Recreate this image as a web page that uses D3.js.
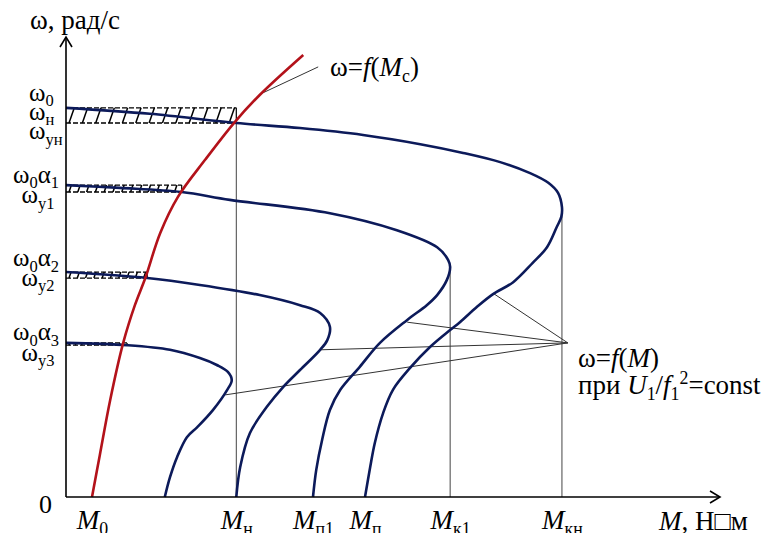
<!DOCTYPE html>
<html>
<head>
<meta charset="utf-8">
<script src="https://cdn.jsdelivr.net/npm/d3@7"></script>
<style>
body{margin:0;background:#fff}
svg{display:block}
text{font-family:"Liberation Serif","Times New Roman",serif;fill:#000}
</style>
</head>
<body>
<script>
const width = 777, height = 533;

// M (torque) and omega in relative units
const curveNat = [[0,84.6],[12.9,83.3],[26.2,81.3],[36.0,80.2],[45.7,78.7],[54.5,76.7],[61.1,74.8],[66.8,72.8],[71.4,70.4],[74.2,68.3],[75.7,66.1],[76.3,63.0],[76.2,60.9],[75.5,58.7],[74.0,54.3],[71.8,50.9],[68.8,46.7],[65.7,44.1],[63.2,41.3],[60.6,38.0],[59.1,36.3],[56.0,32.6],[52.9,28.0],[50.3,23.3],[48.8,18.3],[47.5,11.7],[46.8,6.5],[46.0,0]];
const curveA1 = [[0,67.8],[8.3,67.2],[17.8,66.3],[25.2,64.6],[40.6,61.7],[50.9,58.0],[57.1,54.3],[58.8,51.5],[59.1,50.0],[58.6,47.2],[57.1,43.9],[55.5,41.7],[52.5,38.5],[48.3,33.5],[45.2,28.3],[42.2,23.3],[40.6,18.9],[39.4,12.4],[38.5,5.9],[38.0,0]];
const curveA2 = [[0,48.9],[12.5,47.6],[20.6,46.1],[29.8,43.9],[36.0,41.7],[39.1,40.0],[40.6,37.0],[40.2,34.1],[39.1,32.0],[36.0,27.6],[33.4,23.9],[30.9,19.6],[28.3,13.9],[26.8,6.5],[26.2,0]];
const curveA3 = [[0,33.5],[9.4,33.0],[16.0,32.0],[20.6,30.2],[23.2,28.7],[24.9,27.2],[25.5,25.4],[24.8,23.3],[22.6,18.9],[20.2,15.2],[18.6,13.0],[17.1,8.7],[16.0,4.3],[15.2,0]];
const loadCurve = [[4.0,0],[5.2,9.1],[6.8,21.1],[8.8,33.5],[10.6,41.7],[12.2,47.6],[14.5,57.4],[17.2,65.2],[21.4,73.3],[25.9,81.4],[29.8,87.4],[36.5,96.1]];

// hatched zones: no-load level and working point of each curve
const levelW0 = [84.6, 67.8, 48.9, 33.5];
const opM = [26.2, 17.8, 12.5, 9.4];
const opW = [81.3, 66.3, 47.6, 33.0];

// vertical guide lines
const guideM = [26.2, 59.1, 76.3];
const guideW = [81.3, 50.0, 63.0];

// x tick labels
const mTicks = [4.0, 26.2, 38.0, 46.0, 59.1, 76.3];
const mTickSubs = ["0", "н", "п1", "п", "к1", "кн"];

// y labels
const wLabelLevels = [87.4, 83.3, 79.1, 69.6, 65.2, 51.5, 47.2, 35.4, 30.9];
const wLabelParts = [
  [["ω",""],["0","sub"]],
  [["ω",""],["н","sub"]],
  [["ω",""],["ун","sub"]],
  [["ω",""],["0","sub"],["α",""],["1","sub"]],
  [["ω",""],["у1","sub"]],
  [["ω",""],["0","sub"],["α",""],["2","sub"]],
  [["ω",""],["у2","sub"]],
  [["ω",""],["0","sub"],["α",""],["3","sub"]],
  [["ω",""],["у3","sub"]]
];
const wLabelAlign = ["start","start","start","end","mid","end","mid","end","mid"];

// leader lines
const apexFM = [77.2, 33.5];
const leaderTargets = [[65.7,44.3],[52.5,38.0],[39.1,32.0],[24.5,22.2]];
const leaderMc = [[38.8,93.5],[30.2,87.8]];

const x = d3.scaleLinear().domain([0,100]).range([66,716]);
const y = d3.scaleLinear().domain([0,100]).range([497,37]);

const svg = d3.select("body").append("svg").attr("width",width).attr("height",height)
  .attr("font-family","Liberation Serif, serif");

function rich(t, parts, fs){
  let shift = 0;
  parts.forEach(([s,k])=>{
    const sp = t.append("tspan").text(s);
    const target = k==="sub" ? fs*0.22 : k==="sup" ? -fs*0.38 : 0;
    sp.attr("dy", target-shift);
    shift = target;
    if(k==="sub"||k==="sup") sp.attr("font-size", fs*0.66);
    if(k==="i") sp.attr("font-style","italic");
  });
  return t;
}

// hatched zones
const hatch = svg.append("g");
levelW0.forEach((w0,i)=>{
  const x0 = x(0), x1 = x(opM[i]), yt = y(w0), yb = y(opW[i]);
  const h = yb - yt;
  const step = 5 + 0.55*h;
  hatch.append("line").attr("x1",x0).attr("x2",x1).attr("y1",yt).attr("y2",yt)
    .attr("stroke","#000").attr("stroke-width",1.3).attr("stroke-dasharray","5,2");
  hatch.append("line").attr("x1",x0).attr("x2",x1).attr("y1",yb).attr("y2",yb)
    .attr("stroke","#000").attr("stroke-width",1.3).attr("stroke-dasharray","5,2");
  hatch.append("line").attr("x1",x1).attr("x2",x1).attr("y1",yt).attr("y2",yb)
    .attr("stroke","#000").attr("stroke-width",1.2);
  hatch.selectAll(null).data(d3.range(x0+3, x1-2, step)).enter().append("line")
    .attr("x1",d=>d).attr("y1",yb).attr("x2",d=>d+h*0.35).attr("y2",yt)
    .attr("stroke","#000").attr("stroke-width",1.5);
});

// guides
svg.append("g").selectAll("line").data(guideM).enter().append("line")
  .attr("x1",d=>x(d)).attr("x2",d=>x(d))
  .attr("y1",y(0)).attr("y2",(d,i)=>y(guideW[i]))
  .attr("stroke","#444").attr("stroke-width",1);

// leader lines
const leaders = svg.append("g").attr("stroke","#333").attr("stroke-width",1);
leaderTargets.forEach(p=>{
  leaders.append("line").attr("x1",x(apexFM[0])).attr("y1",y(apexFM[1]))
    .attr("x2",x(p[0])).attr("y2",y(p[1]));
});
leaders.append("line").attr("x1",x(leaderMc[0][0])).attr("y1",y(leaderMc[0][1]))
  .attr("x2",x(leaderMc[1][0])).attr("y2",y(leaderMc[1][1]));

// curves
const line = d3.line().x(d=>x(d[0])).y(d=>y(d[1])).curve(d3.curveCatmullRom.alpha(0.5));
svg.append("g").selectAll("path").data([curveNat,curveA1,curveA2,curveA3]).enter()
  .append("path").attr("d",line).attr("fill","none")
  .attr("stroke","#0c1a5a").attr("stroke-width",2.6);
svg.append("path").datum(loadCurve).attr("d",line).attr("fill","none")
  .attr("stroke","#b3121a").attr("stroke-width",2.6);

// axes
const xAxis = svg.append("g").attr("transform",`translate(0,${y(0)})`)
  .call(d3.axisBottom(x).tickValues(mTicks).tickSize(0).tickFormat(""));
xAxis.select(".domain").remove();
xAxis.selectAll(".tick text").remove();
xAxis.selectAll(".tick").append("text")
  .attr("y",32).attr("text-anchor","middle").attr("font-size",27)
  .each(function(d,i){ rich(d3.select(this), [["M","i"],[mTickSubs[i],"sub"]], 27); });

const axes = svg.append("g").attr("stroke","#000").attr("fill","none").attr("stroke-width",1.6);
axes.append("line").attr("x1",x(0)).attr("x2",720).attr("y1",y(0)).attr("y2",y(0));
axes.append("path").attr("d",`M710,${y(0)-6}L720,${y(0)}L710,${y(0)+6}`);
axes.append("line").attr("x1",x(0)).attr("x2",x(0)).attr("y1",y(0)).attr("y2",37);
axes.append("path").attr("d",`M${x(0)-6},47L${x(0)},37L${x(0)+6},47`);

// y labels
const yl = svg.append("g");
wLabelLevels.forEach((w,i)=>{
  const a = wLabelAlign[i];
  const t = yl.append("text").attr("font-size",25)
    .attr("x", a==="start" ? 29 : a==="end" ? 59 : 38)
    .attr("y", y(w)+6)
    .attr("text-anchor", a==="mid" ? "middle" : a);
  rich(t, wLabelParts[i], 25);
});

svg.append("text").attr("x",30).attr("y",29).attr("font-size",27).text("ω, рад/с");
svg.append("text").attr("x",39).attr("y",513).attr("font-size",26).text("0");
rich(svg.append("text").attr("x",659).attr("y",530).attr("font-size",27),
  [["M","i"],[", Н□м",""]], 27);

rich(svg.append("text").attr("x",330).attr("y",76).attr("font-size",27),
  [["ω=",""],["f","i"],["(",""],["M","i"],["с","sub"],[")",""]], 27);
rich(svg.append("text").attr("x",578).attr("y",367).attr("font-size",27),
  [["ω=",""],["f","i"],["(",""],["M","i"],[")",""]], 27);
rich(svg.append("text").attr("x",578).attr("y",394).attr("font-size",27),
  [["при ",""],["U","i"],["1","sub"],["/",""],["f","i"],["1","sub"],["2","sup"],["=const",""]], 27);
</script>
</body>
</html>
